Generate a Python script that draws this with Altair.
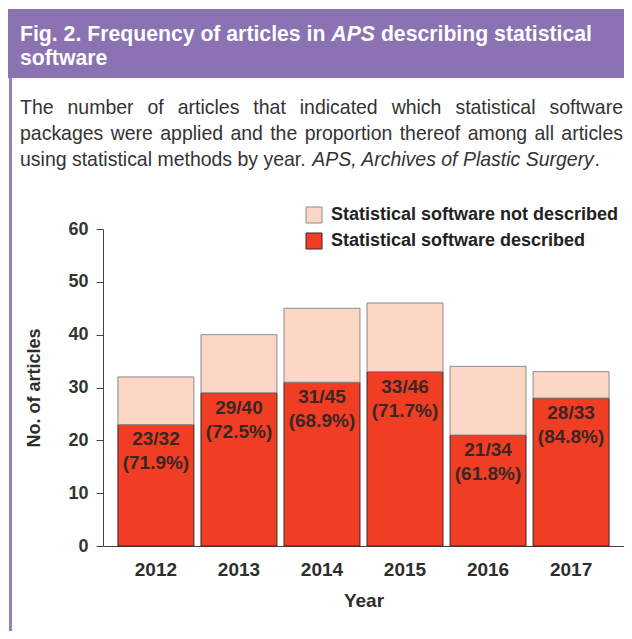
import altair as alt
import pandas as pd

years = ["2012", "2013", "2014", "2015", "2016", "2017"]
described = [23, 29, 31, 33, 21, 28]
totals = [32, 40, 45, 46, 34, 33]

cat_not = "Statistical software not described"
cat_yes = "Statistical software described"

header_lines = [
    [("Fig. 2. Frequency of articles in ", "normal"), ("APS", "italic"), (" describing statistical", "normal")],
    [("software", "normal")],
]
caption_lines = [
    "The number of articles that indicated which statistical software",
    "packages were applied and the proportion thereof among all articles",
]
caption_last = [("using statistical methods by year. ", "normal"),
                ("APS, Archives of Plastic Surgery", "italic"), (".", "normal")]

rows = []
for yr, d, t in zip(years, described, totals):
    rows.append(dict(year=yr, cat=cat_not, start=d, end=t))
    rows.append(dict(year=yr, cat=cat_yes, start=0, end=d))
df = pd.DataFrame(rows)

labels = pd.DataFrame(dict(
    year=years,
    d=described,
    label=[f"{d}/{t}\n({d / t * 100:.1f}%)" for d, t in zip(described, totals)],
))

W, H = 521, 317
FONT = "Liberation Sans"
PURPLE = "#8a72b3"
PURPLE_LINE = "#9482c0"

# Arial / Liberation Sans advance widths (1/1000 em), used to lay out annotation text
REG = dict(zip(" ,./()%:;-", [278, 278, 278, 278, 333, 333, 889, 278, 278, 333]))
REG.update({c: 556 for c in "0123456789"})
REG.update(dict(zip("ABCDEFGHIJKLMNOPQRSTUVWXYZ",
                    [667, 667, 722, 722, 667, 611, 778, 722, 278, 500, 667, 556, 833, 722, 778,
                     667, 778, 722, 667, 611, 722, 667, 944, 667, 667, 611])))
REG.update(dict(zip("abcdefghijklmnopqrstuvwxyz",
                    [556, 556, 500, 556, 556, 278, 556, 556, 222, 222, 500, 222, 833, 556, 556,
                     556, 556, 333, 500, 278, 556, 500, 722, 500, 500, 500])))
BOLD = dict(REG)
BOLD.update(dict(zip("ABCDEFGHIJKLMNOPQRSTUVWXYZ",
                     [722, 722, 722, 722, 667, 611, 778, 722, 278, 556, 722, 611, 833, 722, 778,
                      667, 778, 722, 667, 611, 722, 667, 944, 667, 667, 611])))
BOLD.update(dict(zip("abcdefghijklmnopqrstuvwxyz",
                     [556, 611, 556, 611, 556, 333, 611, 611, 278, 278, 556, 278, 889, 611, 611,
                      611, 611, 389, 556, 333, 611, 556, 778, 556, 556, 500])))


def em(s, table):
    return sum(table.get(c, 556) for c in s) / 1000.0


LEFT = 20 - 103      # window x 20 -> plot coords
RIGHT = 623 - 103

one = pd.DataFrame({"k": [0]})


def txt(s, x, y, size, weight="normal", style="normal", color="white"):
    return alt.Chart(one).mark_text(
        text=s, align="left", baseline="alphabetic", fontSize=size,
        fontWeight=weight, fontStyle=style, color=color, font=FONT,
    ).encode(x=alt.value(x), y=alt.value(y))


def run(parts, x, y, size, table, weight, color):
    out = []
    for part, style in parts:
        lead = len(part) - len(part.lstrip(" "))
        out.append(txt(part.strip(" "), x + em(" " * lead, table) * size, y, size, weight, style, color))
        x += em(part, table) * size
    return out


# header
hsize = 572 / em("".join(p for p, _ in header_lines[0]), BOLD)
head = []
for line, y in zip(header_lines, [-188, -164]):
    head += run(line, LEFT, y, hsize, BOLD, "bold", "white")

# caption (justified lines, last line left aligned)
CAP = "#333"
csize = 580 / em("".join(p for p, _ in caption_last), REG)
cap = []
for line, y in zip(caption_lines, [-115, -89]):
    words = line.split(" ")
    widths = [em(w, REG) * csize for w in words]
    gap = (RIGHT - LEFT - sum(widths)) / (len(words) - 1)
    x = LEFT
    for w, wd in zip(words, widths):
        cap.append(txt(w, x, y, csize, color=CAP))
        x += wd + gap
cap += run(caption_last, LEFT, -63, csize, REG, "normal", CAP)

x_enc = alt.X("year:N", title="Year",
              scale=alt.Scale(paddingInner=0.085, paddingOuter=0.18),
              axis=alt.Axis(labelAngle=0, ticks=False, labelPadding=14,
                            titlePadding=12, labelFontSize=19, titleFontSize=19,
                            labelFont=FONT, titleFont=FONT,
                            labelFontWeight="bold", titleFontWeight="bold",
                            labelColor="#2e2e2e", titleColor="#2e2e2e",
                            domainColor="#444"))

color_scale = alt.Scale(domain=[cat_not, cat_yes], range=["#fcd7c5", "#ef3e23"])
stroke_scale = alt.Scale(domain=[cat_not, cat_yes], range=["#8c8c8c", "#3a2624"])

bars = alt.Chart(df).mark_bar(strokeWidth=1).encode(
    x=x_enc,
    y=alt.Y("start:Q", title="No. of articles",
            scale=alt.Scale(domain=[0, 60], nice=False),
            axis=alt.Axis(values=[0, 10, 20, 30, 40, 50, 60], grid=False,
                          tickSize=7, labelPadding=8, titlePadding=24,
                          labelFontSize=18, titleFontSize=18,
                          labelFont=FONT, titleFont=FONT,
                          labelFontWeight="bold", titleFontWeight="bold",
                          labelColor="#333", titleColor="#2e2e2e",
                          domainColor="#444", tickColor="#444")),
    y2="end:Q",
    color=alt.Color("cat:N", scale=color_scale, sort=[cat_not, cat_yes],
                    legend=alt.Legend(title=None, orient="none", legendX=202, legendY=-23,
                                      symbolType="square", symbolSize=256,
                                      symbolStrokeColor="#444", symbolStrokeWidth=1,
                                      labelFont=FONT, labelFontSize=18, labelLimit=500,
                                      labelColor="#222", labelFontWeight="bold",
                                      rowPadding=6, labelOffset=8)),
    stroke=alt.Stroke("cat:N", scale=stroke_scale, legend=None),
    order=alt.Order("start:Q"),
)

texts = alt.Chart(labels).mark_text(
    baseline="top", dy=6, lineBreak="\n", lineHeight=24,
    fontSize=19, fontWeight="bold", font=FONT, color="#3a2624",
).encode(x="year:N", y="d:Q", text="label:N")

band = alt.Chart(one).mark_rect(color=PURPLE).encode(
    x=alt.value(-95), x2=alt.value(W + 2), y=alt.value(-220), y2=alt.value(-151))
side = alt.Chart(one).mark_rule(color=PURPLE_LINE, strokeWidth=3).encode(
    x=alt.value(-92.5), y=alt.value(-151), y2=alt.value(H + 90))

chart = alt.layer(band, side, *head, *cap, bars, texts).properties(
    width=W, height=H,
    autosize=alt.AutoSizeParams(type="none"),
    padding={"left": 95, "top": 221, "right": 0, "bottom": 85},
).configure_view(stroke=None)

chart.save("out.html", embed_options={"renderer": "svg", "actions": False})
